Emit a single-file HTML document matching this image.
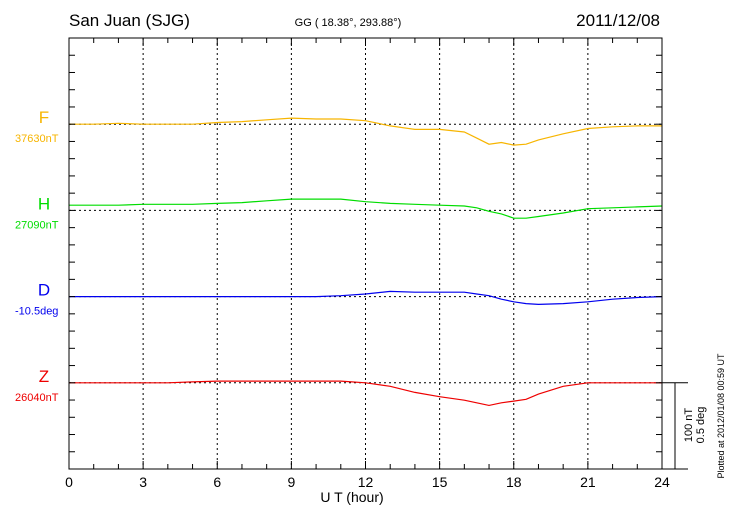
<!DOCTYPE html>
<html><head><meta charset="utf-8"><style>
body{margin:0;background:#fff;}
svg{display:block;font-family:"Liberation Sans",Helvetica,sans-serif;}
</style></head><body>
<svg id="chart" width="730" height="520" viewBox="0 0 730 520">
<text x="69" y="26" font-size="17">San Juan (SJG)</text>
<text x="348" y="26" font-size="11" text-anchor="middle">GG ( 18.38°, 293.88°)</text>
<text x="660" y="26" font-size="17" text-anchor="end">2011/12/08</text>
<text x="352" y="502" font-size="14" text-anchor="middle">U T (hour)</text>
<text transform="translate(724,416) rotate(-90)" font-size="9" text-anchor="middle">Plotted at 2012/01/08 00:59 UT</text>
<text transform="translate(692,425) rotate(-90)" font-size="11" text-anchor="middle">100 nT</text>
<text transform="translate(704,425) rotate(-90)" font-size="11" text-anchor="middle">0.5 deg</text>
<g id="grid"></g><g id="series"></g><g id="axes"></g>
</svg>
<script>
const hours=[0,1,2,3,4,5,6,7,8,9,10,11,12,13,14,15,16,16.5,17,17.5,18,18.5,19,20,21,22,23,24];
const fVals=[0,0,1,0,0,0,2,3,5,7,6,6,4,-2,-6,-6,-9,-16,-23,-21,-24,-23,-18,-11,-5,-3,-2,-2];
const hVals=[6,6,6,7,7,7,8,9,11,13,13,13,10,8,7,6,5,3,-1,-4,-9,-9,-7,-3,2,3,4,5];
const dVals=[0,0,0,0,0,0,0,0,0,0,0,1,3,6,5,5,5,3,1,-3,-6,-8,-9,-8,-6,-3,-1,0];
const zVals=[0,0,0,0,0,1,2,2,2,2,2,2,0,-4,-11,-16,-20,-23,-26,-23,-21,-19,-13,-4,0,0,0,0];
const xTicks=[0,3,6,9,12,15,18,21,24];
const names=['F','H','D','Z'];
const baseLabels=['37630nT','27090nT','-10.5deg','26040nT'];
const colors=['#f7b500','#00dd00','#0000ee','#ee0000'];
const L=69,R=662,T=38,B=469,step=(B-T)/25,pxPerNT=87/100;
const xs=h=>L+h/24*(R-L);
const ns='http://www.w3.org/2000/svg';
function mk(tag,attrs,parent){const e=document.createElementNS(ns,tag);for(const k in attrs)e.setAttribute(k,attrs[k]);parent.appendChild(e);return e;}
const grid=document.getElementById('grid'),ser=document.getElementById('series'),ax=document.getElementById('axes');
xTicks.slice(1,-1).forEach(h=>{const l=mk('line',{x1:xs(h),x2:xs(h),y1:T,y2:B,stroke:'#000','stroke-dasharray':'2,3','stroke-width':1},grid);

});
const bases=[5,10,15,20].map(i=>T+i*step);
bases.forEach(y=>{const l=mk('line',{x1:L,x2:R,y1:y,y2:y,stroke:'#000','stroke-dasharray':'2,3','stroke-width':1},grid);

});
const data=[fVals,hVals,dVals,zVals];
data.forEach((vals,i)=>{
 const pts=hours.map((h,j)=>xs(h).toFixed(1)+','+(bases[i]-vals[j]*pxPerNT).toFixed(1)).join(' ');
 const p=mk('polyline',{points:pts,fill:'none',stroke:colors[i],'stroke-width':1.2},ser);
 
 
 const t=mk('text',{x:44,y:bases[i]-1,'font-size':17,'text-anchor':'middle',fill:colors[i]},ser);t.textContent=names[i];
 
 
 const b=mk('text',{x:15,y:bases[i]+18,'font-size':11,fill:colors[i]},ser);b.textContent=baseLabels[i];
 
 
});
const fr=mk('rect',{x:L,y:T,width:R-L,height:B-T,fill:'none',stroke:'#000','stroke-width':1},ax);


for(let h=0;h<=24;h++){const len=h%3==0?8:5;
 mk('line',{x1:xs(h),x2:xs(h),y1:T,y2:T+len,stroke:'#000'},ax);
 mk('line',{x1:xs(h),x2:xs(h),y1:B,y2:B-len,stroke:'#000'},ax);}
for(let i=1;i<25;i++){const y=T+i*step;
 mk('line',{x1:L,x2:L+6,y1:y,y2:y,stroke:'#000'},ax);
 mk('line',{x1:R,x2:R-6,y1:y,y2:y,stroke:'#000'},ax);}
xTicks.forEach(h=>{const t=mk('text',{x:xs(h),y:487,'font-size':14,'text-anchor':'middle'},ax);t.textContent=h;
 
 });
mk('line',{x1:R,x2:688,y1:B,y2:B,stroke:'#000'},ax);
mk('line',{x1:R,x2:688,y1:bases[3],y2:bases[3],stroke:'#000'},ax);
const sb=mk('line',{x1:675,x2:675,y1:bases[3],y2:B,stroke:'#000'},ax);


</script>
</body></html>
